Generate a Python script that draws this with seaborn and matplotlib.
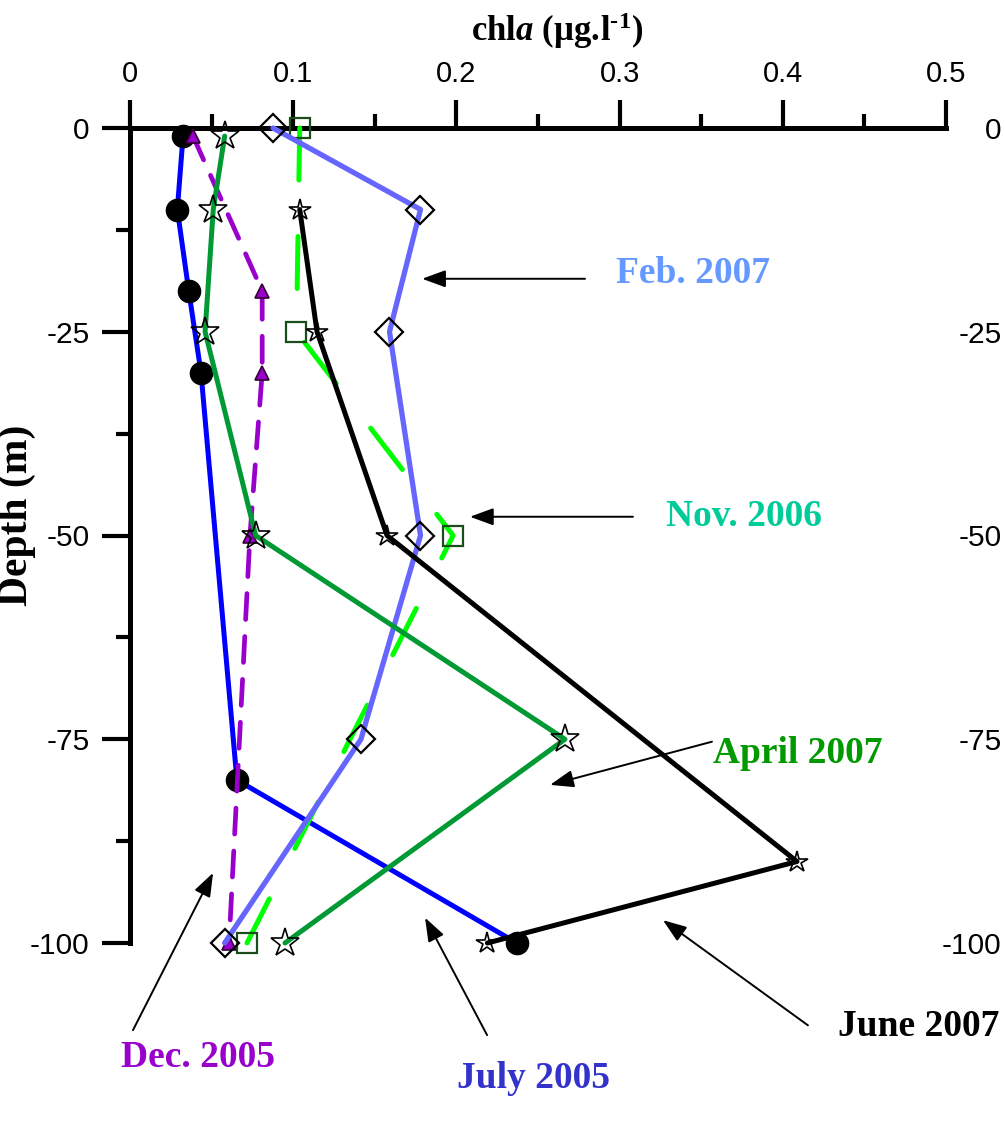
import numpy as np
import pandas as pd
import matplotlib
matplotlib.use("Agg")
import matplotlib.pyplot as plt
from matplotlib.ticker import MultipleLocator
import seaborn as sns

# ---------------- data ----------------
july05_chl = [0.0325, 0.029, 0.036, 0.0435, 0.0655, 0.237]
july05_depth = [-1, -10, -20, -30, -80, -100]

dec05_chl = [0.0386, 0.081, 0.081, 0.0735, 0.0607]
dec05_depth = [-1, -20, -30, -50, -100]

nov06_chl = [0.104, 0.102, 0.198, 0.0717]
nov06_depth = [0, -25, -50, -100]

feb07_chl = [0.0876, 0.178, 0.159, 0.178, 0.1415, 0.058]
feb07_depth = [0, -10, -25, -50, -75, -100]

apr07_chl = [0.058, 0.051, 0.046, 0.077, 0.2665, 0.095]
apr07_depth = [-1, -10, -25, -50, -75, -100]

jun07_chl = [0.104, 0.1146, 0.1575, 0.4087, 0.219]
jun07_depth = [-10, -25, -50, -90, -100]

x_ticks = [0, 0.1, 0.2, 0.3, 0.4, 0.5]
x_ticklabels = ["0", "0.1", "0.2", "0.3", "0.4", "0.5"]
y_ticks = [0, -25, -50, -75, -100]
y_ticklabels = ["0", "-25", "-50", "-75", "-100"]

# ---------------- style ----------------
sns.set_style("white")
plt.rcParams["font.family"] = ["Liberation Sans", "DejaVu Sans"]
plt.rcParams["text.color"] = "black"
plt.rcParams["axes.labelcolor"] = "black"
plt.rcParams["xtick.color"] = "black"
plt.rcParams["ytick.color"] = "black"
plt.rcParams["mathtext.fontset"] = "custom"
plt.rcParams["mathtext.rm"] = "Liberation Serif:bold"
plt.rcParams["mathtext.bf"] = "Liberation Serif:bold"
plt.rcParams["mathtext.it"] = "Liberation Serif:bold:italic"

fig = plt.figure(figsize=(10.05, 11.26), dpi=100)
ax = fig.add_axes([130 / 1005, 1 - 943 / 1126, (946 - 130) / 1005, (943 - 128) / 1126])


def draw(chl, depth, **kw):
    df = pd.DataFrame({"chl": chl, "depth": depth})
    sns.lineplot(data=df, x="chl", y="depth", sort=False, estimator=None,
                 ax=ax, clip_on=False, legend=False, **kw)


# July 2005
draw(july05_chl, july05_depth, color="#0000FF", lw=3.6, marker="o", ms=16,
     mfc="black", mec="black", mew=1, zorder=3)
# Dec 2005
draw(dec05_chl, dec05_depth, color="#9900CC", lw=3.4, marker="^", ms=10,
     mfc="#9900CC", mec="#330033", mew=1.2, linestyle=(0, (5.5, 3.6)),
     dash_capstyle="round", zorder=4)
# Nov 2006
draw(nov06_chl, nov06_depth, color="#00FF00", lw=3.6, marker="s", ms=15,
     mfc="none", mec="#1a4d1a", mew=1.6, linestyle=(0, (10.4, 11.3)),
     dash_capstyle="round", zorder=5)
# Feb 2007
draw(feb07_chl, feb07_depth, color="#6666FF", lw=3.8, marker="D", ms=14,
     mfc="none", mec="black", mew=1.6, zorder=6)
# April 2007
draw(apr07_chl, apr07_depth, color="#009933", lw=3.6, marker="*", ms=21,
     mfc="none", mec="black", mew=1.2, zorder=7)
# June 2007
draw(jun07_chl, jun07_depth, color="black", lw=3.6, marker="*", ms=16,
     mfc="none", mec="black", mew=1.2, zorder=8)

# ---------------- axes ----------------
ax.set_xlim(0, 0.5)
ax.set_ylim(-100, 0)
ax.xaxis.tick_top()
ax.set_xticks(x_ticks)
ax.set_xticklabels(x_ticklabels)
ax.xaxis.set_minor_locator(MultipleLocator(0.05))
ax.set_yticks(y_ticks)
ax.set_yticklabels(y_ticklabels)
ax.yaxis.set_minor_locator(MultipleLocator(12.5))
ax.set_xlabel("")
ax.set_ylabel("")

for s in ["right", "bottom"]:
    ax.spines[s].set_visible(False)
for s in ["left", "top"]:
    ax.spines[s].set_linewidth(3.6)
    ax.spines[s].set_color("black")
    ax.spines[s].set_zorder(2)

ax.tick_params(axis="x", which="major", direction="out", length=20, width=3,
               labelsize=21, pad=9, top=True, bottom=False, colors="black")
ax.tick_params(axis="x", which="minor", direction="out", length=10, width=3,
               top=True, bottom=False, colors="black")
ax.tick_params(axis="y", which="major", direction="out", length=20, width=3,
               labelsize=21.5, pad=9, left=True, right=False, colors="black")
ax.tick_params(axis="y", which="minor", direction="out", length=10, width=3,
               left=True, right=False, colors="black")

ax2 = ax.twinx()
ax2.set_ylim(-100, 0)
ax2.set_yticks(y_ticks)
ax2.set_yticklabels(y_ticklabels)
for s in ax2.spines.values():
    s.set_visible(False)
ax2.tick_params(axis="y", length=0, labelsize=21.5, pad=40, colors="black")
for lab in ax2.get_yticklabels():
    lab.set_horizontalalignment("right")
ax2.grid(False)

# ---------------- labels ----------------
serif = ["Liberation Serif", "DejaVu Serif"]
fig.text(557 / 1005, 1 - 31 / 1126,
         r"$\mathrm{chl}\mathit{a}\ \mathrm{(\mu g.\!l}^{\text{-}1}\mathrm{)}$",
         ha="center", va="center", fontsize=25, color="black")
fig.text(17 / 1005, 1 - 515 / 1126, "Depth (m)", rotation=90, ha="center",
         va="center", fontsize=30, fontweight="bold", family=serif, color="black")

# ---------------- annotations ----------------
ann_labels = ["Feb. 2007", "Nov. 2006", "April 2007", "June 2007", "July 2005", "Dec. 2005"]
ann_colors = ["#6699FF", "#00CC99", "#009900", "black", "#3333CC", "#9900CC"]
ann_text_xy = [(0.345, -17.8), (0.376, -47.7), (0.409, -76.7),
               (0.483, -110.3), (0.247, -116.6), (0.0417, -114.1)]
ann_tail = [(0.2788, -18.5), (0.3082, -47.7), (0.3566, -75.3),
            (0.4154, -110.1), (0.2188, -111.3), (0.0018, -110.7)]
ann_head = [(0.179, -18.5), (0.2083, -47.7), (0.2574, -80.6),
            (0.3266, -97.2), (0.1808, -96.9), (0.0509, -91.4)]

for lab, col, txy, tail, head in zip(ann_labels, ann_colors, ann_text_xy, ann_tail, ann_head):
    ax.annotate("", xy=head, xytext=tail, annotation_clip=False,
                arrowprops=dict(arrowstyle="-|>,head_length=0.9,head_width=0.33",
                                color="black", lw=1.4, mutation_scale=16,
                                shrinkA=0, shrinkB=0), zorder=10)
    ax.text(txy[0], txy[1], lab, color=col, fontsize=27, fontweight="bold",
            family=serif, ha="center", va="center", clip_on=False, zorder=10)

fig.savefig("out.png", dpi=100)
